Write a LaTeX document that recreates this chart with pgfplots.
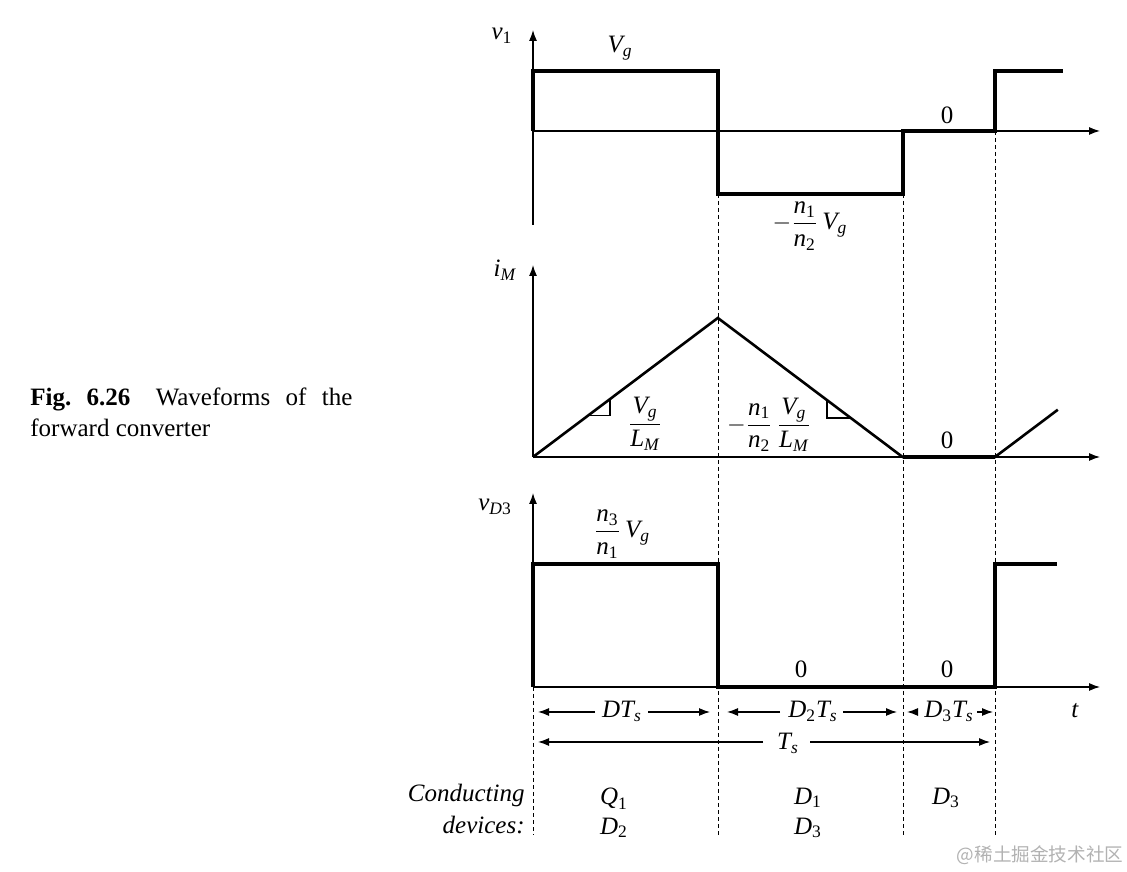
\documentclass[border=0pt]{standalone}
\usepackage{amsmath}
\usepackage{fontspec}
\setmainfont{Liberation Serif}
\newfontfamily\cjk{Noto Sans CJK SC}
\usepackage{pgfplots}
\pgfplotsset{compat=1.18}
\usetikzlibrary{arrows.meta}
\newcommand{\I}[1]{\textit{#1}}
\tikzset{
  arr/.style={line width=0.6pt, -{Latex[length=5.5pt,width=4pt]}},
  dsh/.style={line width=0.5pt, dash pattern=on 2pt off 1.5pt},
}
\pgfplotsset{
  wave/.style={scale only axis, axis lines=none, clip=false,
    xmin=0, xmax=1.2273, width=283.5pt},
}
\begin{document}
\fontsize{12.5}{15}\selectfont
\begin{tikzpicture}
\useasboundingbox (0,0) rectangle (563.5pt,435.5pt);
% dashed guide lines (pixel coordinates)
\begin{scope}[shift={(0pt,435.5pt)}, x=0.5pt, y=-0.5pt]
\draw[dsh] (533,687) -- (533,835);
\draw[dsh] (718,194) -- (718,835);
\draw[dsh] (903,194) -- (903,835);
\draw[dsh] (995,131) -- (995,835);
\end{scope}

% ---- v1 ----
\begin{axis}[wave, at={(266.5pt,323pt)}, anchor=south west,
  height=97.5pt, ymin=-1.5667, ymax=1.6833]
\draw[arr] (axis cs:0,0) -- (axis cs:1.2273,0);
\draw[arr] (axis cs:0,-1.5667) -- (axis cs:0,1.6833);
\addplot[black, line width=2pt, line join=miter, mark=none] coordinates {
  (0,0) (0,1) (0.4,1) (0.4,-1.05) (0.8,-1.05) (0.8,0) (1,0) (1,1) (1.147,1)};
\end{axis}

% ---- iM ----
\begin{axis}[wave, at={(266.5pt,207pt)}, anchor=south west,
  height=96pt, ymin=0, ymax=1.381]
\draw[arr] (axis cs:0,0) -- (axis cs:1.2273,0);
\draw[arr] (axis cs:0,0) -- (axis cs:0,1.381);
\addplot[black, line width=1.3pt, line join=miter, mark=none] coordinates {
  (0,0) (0.4,1) (0.8,0) (1,0) (1.136,0.34)};
\addplot[black, line width=1.6pt, mark=none] coordinates {(0.8,0) (1,0)};
\addplot[black, line width=0.6pt, mark=none] coordinates {
  (0.12,0.30) (0.1667,0.30) (0.1667,0.4167)};
\addplot[black, line width=0.6pt, mark=none] coordinates {
  (0.6364,0.409) (0.6364,0.2806) (0.6878,0.2806)};
\end{axis}

% ---- vD3 ----
\begin{axis}[wave, at={(266.5pt,92pt)}, anchor=south west,
  height=97pt, ymin=0, ymax=1.577]
\draw[arr] (axis cs:0,0) -- (axis cs:1.2273,0);
\draw[arr] (axis cs:0,0) -- (axis cs:0,1.577);
\addplot[black, line width=2pt, line join=miter, mark=none] coordinates {
  (0,0) (0,1) (0.4,1) (0.4,0) (1,0) (1,1) (1.134,1)};
\end{axis}

% ---- annotations (pixel coordinates) ----
\begin{scope}[shift={(0pt,435.5pt)}, x=0.5pt, y=-0.5pt]
% top
\node at (502,36) {$\I{v}_{\textup{1}}$};
\node at (620,48) {$\I{V}_{\I{g}}$};
\node at (947,115) {0};
\node at (810,226) {$-\dfrac{\I{n}_{\textup{1}}}{\I{n}_{\textup{2}}}\,\I{V}_{\I{g}}$};
% middle
\node at (505,270) {$\I{i}_{\I{M}}$};
\node at (645,424) {$\dfrac{\I{V}_{\I{g}}}{\I{L}_{\I{M}}}$};
\node at (769,425) {$-\dfrac{\I{n}_{\textup{1}}}{\I{n}_{\textup{2}}}\,\dfrac{\I{V}_{\I{g}}}{\I{L}_{\I{M}}}$};
\node at (947,440) {0};
% bottom
\node at (495,507) {$\I{v}_{\I{D}\textup{3}}$};
\node at (622,534) {$\dfrac{\I{n}_{\textup{3}}}{\I{n}_{\textup{1}}}\,\I{V}_{\I{g}}$};
\node at (801,669) {0};
\node at (947,669) {0};
\node[anchor=base] at (1075,718) {\I{t}};
% interval arrows
\draw[arr] (595,712) -- (538,712);
\draw[arr] (648,712) -- (710,712);
\node[anchor=base] at (622,718) {$\I{D}\I{T}_{\I{s}}$};
\draw[arr] (780,712) -- (727,712);
\draw[arr] (843,712) -- (897,712);
\node[anchor=base] at (813,718) {$\I{D}_{\textup{2}}\I{T}_{\I{s}}$};
\draw[arr] (917,712) -- (907,712);
\draw[arr] (977,712) -- (993,712);
\node[anchor=base] at (949,718) {$\I{D}_{\textup{3}}\I{T}_{\I{s}}$};
\draw[arr] (763,742) -- (538,742);
\draw[arr] (810,742) -- (990,742);
\node[anchor=base] at (788,750) {$\I{T}_{\I{s}}$};
% conducting devices
\node[anchor=base east, inner sep=0pt] at (525,802) {\I{Conducting}};
\node[anchor=base east, inner sep=0pt] at (525,833) {\I{devices:}};
\node[anchor=base] at (614,804) {$\I{Q}_{\textup{1}}$};
\node[anchor=base] at (614,834) {$\I{D}_{\textup{2}}$};
\node[anchor=base] at (808,804) {$\I{D}_{\textup{1}}$};
\node[anchor=base] at (808,834) {$\I{D}_{\textup{3}}$};
\node[anchor=base] at (946,804) {$\I{D}_{\textup{3}}$};
% caption
\node[anchor=base west, inner sep=0pt] at (30,406)
  {\makebox[161pt][s]{\textbf{Fig.}\hfill\textbf{6.26}\hfill\hspace{5pt}Waveforms\hfill of\hfill the}};
\node[anchor=base west, inner sep=0pt] at (30,437) {forward converter};
% watermark
\node[text=black!30] at (1040,855) {\cjk\fontsize{9.3}{11}\selectfont @稀土掘金技术社区};
\end{scope}
\end{tikzpicture}
\end{document}
